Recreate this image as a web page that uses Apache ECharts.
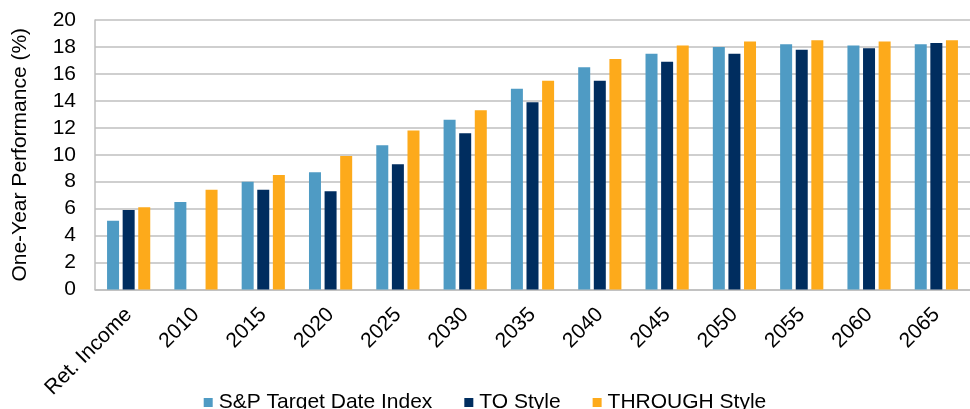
<!DOCTYPE html>
<html>
<head>
<meta charset="utf-8">
<script src="https://cdn.jsdelivr.net/npm/echarts@6/dist/echarts.min.js"></script>
<style>html,body{margin:0;padding:0;background:#fff;}#chart{width:970px;height:409px;}</style>
</head>
<body>
<div id="chart"></div>
<script>
const categories = ['Ret. Income','2010','2015','2020','2025','2030','2035','2040','2045','2050','2055','2060','2065'];
const spTargetDate = [5.1, 6.5, 8.0, 8.7, 10.7, 12.6, 14.9, 16.5, 17.5, 18.0, 18.2, 18.1, 18.2];
const toStyle      = [5.9, null, 7.4, 7.3, 9.3, 11.6, 13.9, 15.5, 16.9, 17.5, 17.8, 17.9, 18.3];
const throughStyle = [6.1, 7.4, 8.5, 9.9, 11.8, 13.3, 15.5, 17.1, 18.1, 18.4, 18.5, 18.4, 18.5];
const seriesNames = ['S&P Target Date Index', 'TO Style', 'THROUGH Style'];
const yTicks = { min: 0, max: 20, interval: 2 };

const colors = ['#4F9BC4', '#002D5F', '#FDAA1B'];
const font = 'Liberation Sans, Arial, sans-serif';
const chart = echarts.init(document.getElementById('chart'));
const mk = (name, data, i) => ({
  name, type: 'bar', data, barWidth: 12, barGap: '30%',
  itemStyle: { color: colors[i] }
});
chart.setOption({
  animation: false,
  textStyle: { fontFamily: font },
  grid: { left: 95, right: -14, top: 20, bottom: 119.5 },
  legend: {
    left: 'center', top: 387, itemWidth: 9, itemHeight: 9, itemGap: 32,
    icon: 'rect',
    textStyle: { fontSize: 21, color: '#000', fontFamily: font, padding: [0,0,0,1] },
    data: seriesNames
  },
  xAxis: {
    type: 'category', data: categories,
    axisLine: { show: true, lineStyle: { color: '#BFBFBF', width: 1.5 } },
    axisTick: { show: false },
    axisLabel: { rotate: 45, fontSize: 21, color: '#000', margin: 22, interval: 0, fontFamily: font }
  },
  yAxis: {
    type: 'value', min: yTicks.min, max: yTicks.max, interval: yTicks.interval,
    name: 'One-Year Performance (%)', nameLocation: 'middle', nameGap: 64,
    nameTextStyle: { fontSize: 21, color: '#000', fontFamily: font },
    axisLine: { show: true, lineStyle: { color: '#BFBFBF', width: 1.5 } },
    axisTick: { show: false },
    axisLabel: { fontSize: 21, color: '#000', margin: 19, fontFamily: font },
    splitLine: { show: true, lineStyle: { color: '#BFBFBF', width: 1.5 } }
  },
  series: [
    mk(seriesNames[0], spTargetDate, 0),
    mk(seriesNames[1], toStyle, 1),
    mk(seriesNames[2], throughStyle, 2)
  ]
});
</script>
</body>
</html>
